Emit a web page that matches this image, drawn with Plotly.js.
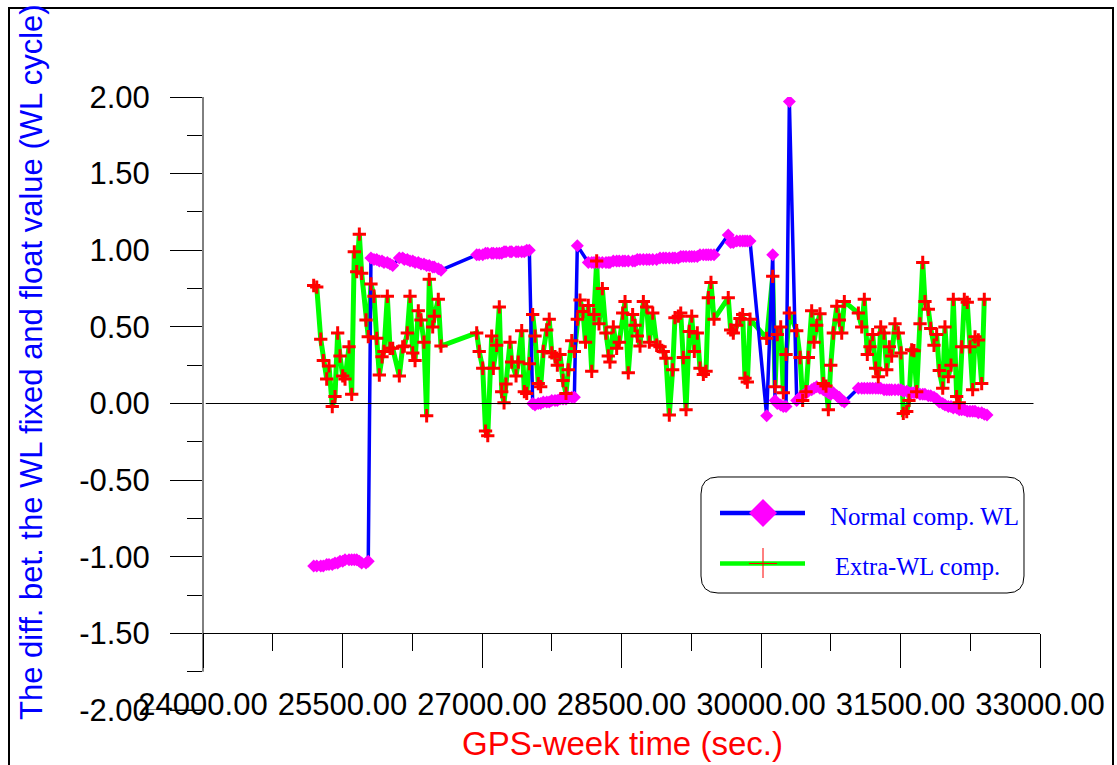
<!DOCTYPE html>
<html><head><meta charset="utf-8">
<script src="https://cdn.plot.ly/plotly-3.0.1.min.js"></script>
<style>html,body{margin:0;padding:0;background:#fff;}#chart{width:1117px;height:765px;}</style>
</head><body><div id="chart"></div>
<script>
// GPS-week time (s)
const gpsTime = [
25190,25223,25266,25294,25330,25355,25390,25419,25448,25473,
25502,25527,25570,25599,25627,25653,25681,25706,25753,25777,
25806,25839,25868,25896,25925,25946,25982,26011,26040,26111,
26147,26165,26197,26226,26255,26280,26315,26344,26376,26405,
26433,26470,26487,26530,26559,
26943,26970,27008,27038,27062,27104,27122,27158,27186,27212,
27237,27258,27301,27319,27366,27390,27427,27455,27481,27509,
27545,27570,27605,27631,27659,27696,27723,27750,27785,27810,
27839,27871,27903,27928,27965,27993,28025,28054,28086,28113,
28143,28180,28204,28233,28258,28294,28333,28358,28376,28412,
28448,28476,28513,28538,28573,28620,28645,28670,28699,28735,
28771,28799,28836,28878,28914,28949,28978,29014,29050,29075,
29111,29137,29165,29194,29229,29255,29283,29315,29344,29380,
29409,29434,29462,29495,
29648,29674,29702,29739,29774,29803,29828,29853,29882,
30061,30126,30151,30175,30212,30240,30269,30305,30384,30420,
30448,30484,30509,30545,30570,30599,30634,30670,30699,30724,
30750,30778,30815,30842,30868,30896,
31047,31083,31111,31143,31172,31201,31233,31261,31287,31323,
31352,31380,31405,31441,31476,31505,31530,31567,31591,31620,
31645,31674,31710,31739,31763,31799,31825,31860,31889,31917,
31954,31978,32014,32043,32068,32104,32132,32158,32186,32218,
32247,32276,32301,32337,32373,32401,32430
];
// Normal comp. WL (cycles)
const normalWL = [
-1.06,-1.06,-1.06,-1.06,-1.05,-1.05,-1.05,-1.04,-1.04,-1.03,
-1.03,-1.02,-1.02,-1.02,-1.02,-1.02,-1.03,-1.04,-1.04,-1.03,
0.95,0.94,0.94,0.93,0.93,0.92,0.92,0.91,0.90,0.95,
0.95,0.94,0.94,0.93,0.93,0.92,0.92,0.91,0.91,0.90,
0.90,0.89,0.89,0.88,0.87,
0.97,0.97,0.97,0.98,0.98,0.98,0.98,0.98,0.98,0.98,
0.99,0.99,0.99,0.99,0.99,0.99,0.99,0.99,1.00,1.00,
0.00,-0.01,0.00,0.00,0.01,0.01,0.01,0.02,0.02,0.02,
0.03,0.03,0.03,0.04,0.04,0.04,1.03,null,null,null,
0.92,0.92,0.92,0.92,0.92,0.92,0.92,0.92,0.92,0.93,
0.93,0.93,0.93,0.93,0.93,0.93,0.93,0.94,0.94,0.94,
0.94,0.94,0.94,0.94,0.95,0.95,0.95,0.95,0.95,0.95,
0.95,0.96,0.96,0.96,0.96,0.96,0.96,0.96,0.97,0.97,
0.97,0.97,0.97,0.97,
1.10,1.05,1.05,1.06,1.06,1.06,1.06,1.06,1.06,
-0.08,0.97,0.02,0.00,-0.01,-0.02,-0.02,1.97,0.02,0.04,
0.05,0.07,0.08,0.09,0.10,0.11,0.10,0.09,0.08,0.07,
0.06,0.07,0.05,0.04,0.02,0.01,
0.10,0.10,0.10,0.10,0.10,0.10,0.10,0.10,0.10,0.09,
0.09,0.09,0.09,0.09,0.09,0.09,0.08,0.08,0.07,0.07,
0.07,0.07,0.06,0.06,0.06,0.05,0.05,0.04,0.03,0.01,
0.00,-0.01,-0.02,-0.02,-0.03,-0.03,-0.04,-0.04,-0.04,-0.05,
-0.05,-0.05,-0.05,-0.06,-0.06,-0.07,-0.075
];
// Extra-WL comp. (cycles)
const extraWL = [
0.77,0.76,0.42,0.28,0.16,0.245,-0.02,0.045,0.46,0.31,
0.18,0.16,0.37,0.06,0.99,0.86,1.105,0.85,0.545,0.436,
0.78,0.70,0.425,0.186,0.305,0.34,0.70,0.36,0.36,0.18,
0.37,0.375,0.46,0.70,0.33,0.28,0.605,0.545,0.40,-0.08,
0.81,0.50,0.57,0.68,0.375,
0.46,0.34,0.23,-0.18,-0.21,0.44,0.23,0.38,0.63,0.077,
0.005,0.127,0.40,0.27,0.18,0.27,0.475,0.077,0.066,0.26,
0.58,0.44,0.13,0.11,0.34,0.48,0.55,0.33,0.305,0.25,
0.32,0.15,0.066,0.22,0.41,0.34,0.55,0.675,0.60,0.40,
0.64,0.21,0.58,0.93,0.52,0.75,0.46,0.31,0.27,0.50,
0.36,0.40,0.59,0.665,0.20,0.58,0.51,0.44,0.375,0.665,
0.63,0.40,0.59,0.38,0.37,0.34,0.295,-0.075,0.22,0.56,
0.57,0.59,0.30,-0.04,0.47,0.57,0.34,0.46,0.23,0.19,
0.21,0.69,0.79,0.55,
0.69,0.48,0.46,0.51,0.555,0.58,0.165,0.14,0.55,
0.425,0.83,0.11,0.45,0.50,0.07,0.32,0.59,0.475,0.30,
0.02,0.077,0.30,0.605,0.40,0.51,0.585,0.13,0.114,-0.04,
0.25,0.46,0.635,0.545,0.46,0.665,
0.59,0.50,0.68,0.32,0.37,0.45,0.23,0.175,0.50,0.46,
0.22,0.37,0.31,0.52,0.46,0.33,-0.065,-0.053,0.02,0.35,
0.345,0.077,0.52,0.92,0.665,0.615,0.49,0.38,0.45,0.215,
0.10,0.50,0.175,0.25,0.68,0.045,0.005,0.37,0.68,0.66,
0.37,0.09,0.435,0.415,0.13,0.68,null
];
const xTickVals = [24000,25500,27000,28500,30000,31500,33000];
const xTickText = ['24000.00','25500.00','27000.00','28500.00','30000.00','31500.00','33000.00'];
const yTickVals = [-2,-1.5,-1,-0.5,0,0.5,1,1.5,2];
const yTickText = ['-2.00','-1.50','-1.00','-0.50','0.00','0.50','1.00','1.50','2.00'];
const seriesNames = ['Normal comp. WL','Extra-WL comp.'];
const xTitle = 'GPS-week time (sec.)';
const yTitle = 'The diff. bet. the WL fixed and float value (WL cycle)';

// layout helpers: pixel -> paper
const L=203, R=1040, T=97, B=710;
const px = p => (p-L)/(R-L);
const py = p => (B-p)/(B-T);
function pathFromPx(pts){ return pts.map(c=> (c[0]==='Z'?'Z':(c[0]+px(c[1]).toFixed(5)+','+py(c[2]).toFixed(5)))).join(' '); }

const sans = 'Liberation Sans, Arial, sans-serif';
const serif = 'Liberation Serif, Times New Roman, serif';

const traces = [
  {x:gpsTime, y:extraWL, type:'scatter', mode:'lines', line:{color:'#00FF00', width:5}, hoverinfo:'skip', name:seriesNames[1], showlegend:false},
  {x:gpsTime, y:normalWL, type:'scatter', mode:'lines', connectgaps:true, line:{color:'#0000FF', width:3.5}, hoverinfo:'skip', name:seriesNames[0], showlegend:false},
  {x:gpsTime, y:normalWL, type:'scatter', mode:'markers', marker:{symbol:'diamond', size:10, color:'#FF00FF'}, hoverinfo:'skip', name:seriesNames[0], showlegend:false},
  {x:gpsTime, y:extraWL, type:'scatter', mode:'markers', marker:{symbol:'cross-thin', size:9.5, color:'#FF0000', line:{color:'#FF0000', width:3}}, hoverinfo:'skip', name:seriesNames[1], showlegend:false}
];

// rounded legend box
const bx0=701,bx1=1024,by0=477,by1=593,r=17;
const boxPath = pathFromPx([
 ['M',bx0+r,by0],['L',bx1-r,by0],['Q',bx1,by0],['',bx1,by0+r],['L',bx1,by1-r],['Q',bx1,by1],['',bx1-r,by1],
 ['L',bx0+r,by1],['Q',bx0,by1],['',bx0,by1-r],['L',bx0,by0+r],['Q',bx0,by0],['',bx0+r,by0],['Z']
]);
const diamondPath = pathFromPx([['M',763,499],['L',777,513],['L',763,527],['L',749,513],['Z']]);

const shapes = [
  {type:'rect', xref:'paper', yref:'paper', x0:px(9), x1:px(1113), y0:py(775), y1:py(8), line:{color:'#000', width:2}, layer:'below'},
  {type:'line', xref:'paper', yref:'y', x0:0, x1:0, y0:-1.75, y1:2, line:{color:'#000', width:1}},
  {type:'line', xref:'paper', yref:'y', x0:px(143), x1:0, y0:-2, y1:-2, line:{color:'#000', width:1}},
  {type:'line', xref:'x', yref:'y', x0:24030, x1:32930, y0:0, y1:0, line:{color:'#000', width:1}},
  {type:'path', xref:'paper', yref:'paper', path:boxPath, fillcolor:'#FFFFFF', line:{color:'#000', width:1}},
  {type:'line', xref:'paper', yref:'paper', x0:px(720), x1:px(805), y0:py(513), y1:py(513), line:{color:'#0000FF', width:4.5}},
  {type:'path', xref:'paper', yref:'paper', path:diamondPath, fillcolor:'#FF00FF', line:{width:0}},
  {type:'line', xref:'paper', yref:'paper', x0:px(720), x1:px(805), y0:py(563.5), y1:py(563.5), line:{color:'#00FF00', width:4.5}},
  {type:'line', xref:'paper', yref:'paper', x0:px(763), x1:px(763), y0:py(548), y1:py(578), line:{color:'#FF0000', width:1}},
  {type:'line', xref:'paper', yref:'paper', x0:px(749), x1:px(777), y0:py(563.5), y1:py(563.5), line:{color:'#FF0000', width:1}}
];

const annotations = [
  {xref:'paper', yref:'paper', x:px(31), y:py(362), text:yTitle, textangle:-90, showarrow:false, xanchor:'center', yanchor:'middle', font:{family:sans, size:31, color:'#0000FF'}},
  {xref:'paper', yref:'paper', x:px(622), y:py(743), text:xTitle, showarrow:false, xanchor:'center', yanchor:'middle', font:{family:sans, size:33, color:'#FF0000'}},
  {xref:'paper', yref:'paper', x:px(828), y:py(516), text:seriesNames[0], showarrow:false, xanchor:'left', yanchor:'middle', font:{family:serif, size:25, color:'#0000FF'}},
  {xref:'paper', yref:'paper', x:px(833), y:py(566), text:seriesNames[1], showarrow:false, xanchor:'left', yanchor:'middle', font:{family:serif, size:24.5, color:'#0000FF'}}
];

const layout = {
  width:1117, height:765,
  margin:{l:L, r:1117-R, t:T, b:765-B, pad:0},
  paper_bgcolor:'#FFFFFF', plot_bgcolor:'rgba(0,0,0,0)',
  showlegend:false, hovermode:false,
  xaxis:{range:[24000,33000], tickmode:'array', tickvals:xTickVals, ticktext:xTickText,
    ticks:'outside', ticklen:34, tickwidth:1, tickcolor:'#000',
    minor:{tickmode:'linear', tick0:24000, dtick:750, ticks:'outside', ticklen:17, tickwidth:1, tickcolor:'#000', showgrid:false},
    showline:true, linecolor:'#000', linewidth:1, anchor:'free', position:0.125,
    showgrid:false, zeroline:false, automargin:false, ticklabelstandoff:9,
    tickfont:{family:sans, size:31, color:'#000'}},
  yaxis:{range:[-2,2], tickmode:'array', tickvals:yTickVals, ticktext:yTickText,
    ticks:'outside', ticklen:32, tickwidth:1, tickcolor:'#000',
    minor:{tickmode:'linear', tick0:0, dtick:0.25, ticks:'outside', ticklen:15, tickwidth:1, tickcolor:'#000', showgrid:false},
    showline:false, showgrid:false, zeroline:false, automargin:false, ticklabelstandoff:14,
    tickfont:{family:sans, size:31, color:'#000'}},
  shapes:shapes, annotations:annotations
};

Plotly.newPlot('chart', traces, layout, {staticPlot:true, displayModeBar:false});
</script>
</body></html>
